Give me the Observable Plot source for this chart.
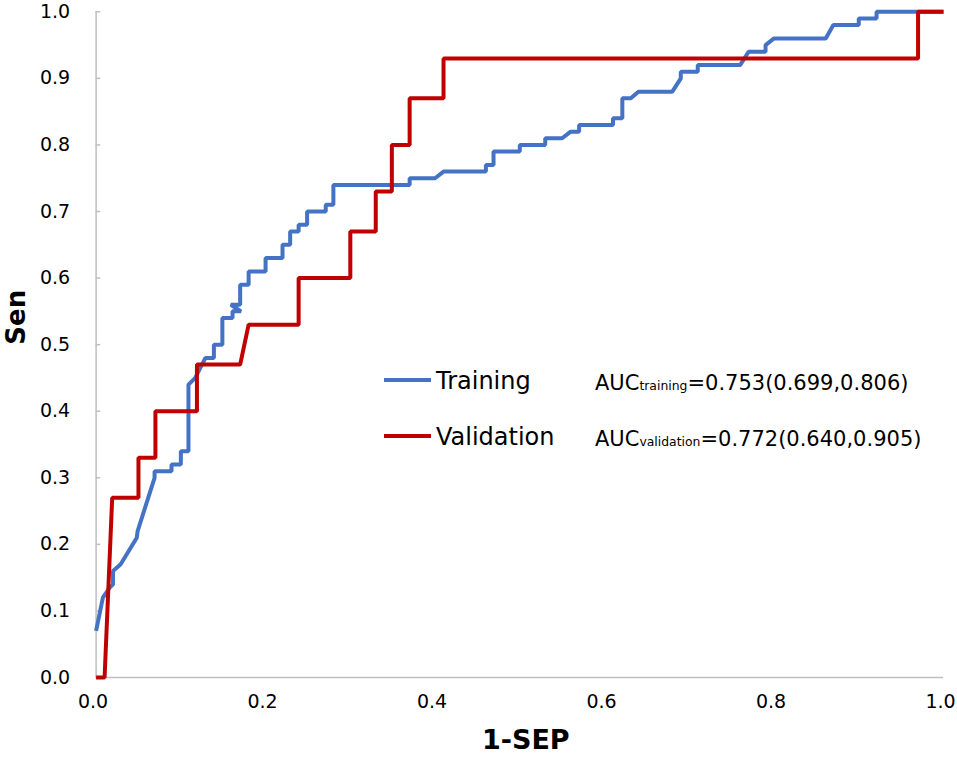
<!DOCTYPE html>
<html>
<head>
<meta charset="utf-8">
<script src="https://cdn.jsdelivr.net/npm/d3@7"></script>
<script src="https://cdn.jsdelivr.net/npm/@observablehq/plot@0.6"></script>
<style>
  body { margin: 0; background: #fff; }
  #wrap { position: relative; width: 957px; height: 761px; font-family: "DejaVu Sans", sans-serif; }
  .leg { position: absolute; white-space: nowrap; color: #000; line-height: 1; }
  .sw { position: absolute; height: 4px; }
  sub { font-size: 12.4px; vertical-align: baseline; }
</style>
</head>
<body>
<div id="wrap"></div>
<script>
// Training ROC curve (1-SEP, Sen)
const trainX = [0,0.008,0.016,0.02,0.02,0.029,0.048,0.049,0.069,0.069,0.089,0.089,0.1,0.1,0.109,0.109,0.117,0.129,0.139,0.139,0.149,0.149,0.161,0.161,0.171,0.159,0.17,0.17,0.18,0.18,0.2,0.2,0.22,0.22,0.229,0.229,0.239,0.239,0.249,0.249,0.271,0.271,0.28,0.28,0.37,0.37,0.40,0.41,0.46,0.46,0.469,0.469,0.50,0.50,0.53,0.53,0.55,0.56,0.57,0.57,0.61,0.61,0.621,0.621,0.631,0.64,0.68,0.69,0.69,0.71,0.71,0.76,0.77,0.79,0.79,0.80,0.861,0.87,0.90,0.90,0.921,0.921,1.0];
const trainY = [0.07,0.12,0.135,0.14,0.16,0.17,0.21,0.22,0.30,0.31,0.31,0.32,0.32,0.34,0.34,0.44,0.45,0.48,0.48,0.50,0.50,0.54,0.54,0.55,0.55,0.56,0.56,0.59,0.59,0.61,0.61,0.63,0.63,0.65,0.65,0.67,0.67,0.68,0.68,0.70,0.70,0.71,0.71,0.74,0.74,0.75,0.75,0.76,0.76,0.77,0.77,0.79,0.79,0.80,0.80,0.81,0.81,0.82,0.82,0.83,0.83,0.84,0.84,0.87,0.87,0.88,0.88,0.90,0.91,0.91,0.92,0.92,0.94,0.94,0.95,0.96,0.96,0.98,0.98,0.99,0.99,1.0,1.0];
// Validation ROC curve
const validX = [0,0.01,0.019,0.05,0.05,0.07,0.07,0.119,0.119,0.17,0.18,0.239,0.239,0.30,0.30,0.33,0.33,0.349,0.349,0.37,0.37,0.41,0.41,0.97,0.97,1.0];
const validY = [0,0,0.27,0.27,0.33,0.33,0.40,0.40,0.47,0.47,0.53,0.53,0.60,0.60,0.67,0.67,0.73,0.73,0.80,0.80,0.87,0.87,0.93,0.93,1.0,1.0];
// Ticks
const xTicks = [0,0.2,0.4,0.6,0.8,1.0];
const yTicks = [0,0.1,0.2,0.3,0.4,0.5,0.6,0.7,0.8,0.9,1.0];
// Labels
const seriesNames = ["Training", "Validation"];
const aucSub = ["training", "validation"];
const aucText = ["=0.753(0.699,0.806)", "=0.772(0.640,0.905)"];
const colors = ["#4472C4", "#C00000"];

const train = trainX.map((x, i) => ({x, y: trainY[i]}));
const valid = validX.map((x, i) => ({x, y: validY[i]}));
const fmt = d3.format(".1f");

const chart = Plot.plot({
  width: 957,
  height: 761,
  marginLeft: 95.6,
  marginRight: 14,
  marginTop: 11.3,
  marginBottom: 84,
  style: {fontFamily: '"DejaVu Sans", sans-serif', background: "#fff", color: "#000"},
  x: {domain: [0, 1]},
  y: {domain: [0, 1]},
  marks: [
    Plot.ruleY(yTicks, {x1: 0, x2: 0.0055, stroke: "#BFBFBF", strokeWidth: 1.5}),
    Plot.ruleX([0], {stroke: "#BFBFBF", strokeWidth: 1.5}),
    Plot.ruleY([0], {stroke: "#BFBFBF", strokeWidth: 1.5}),
    Plot.axisY({ticks: yTicks, tickSize: 0, tickPadding: 26, tickFormat: fmt, fontSize: 19, label: null}),
    Plot.axisX({ticks: xTicks, tickSize: 0, tickPadding: 17, tickFormat: fmt, fontSize: 19, dx: -3, label: null}),
    Plot.line(train, {x: "x", y: "y", stroke: colors[0], strokeWidth: 4, strokeLinejoin: "miter", strokeLinecap: "butt"}),
    Plot.line(valid, {x: "x", y: "y", stroke: colors[1], strokeWidth: 4, strokeLinejoin: "miter", strokeLinecap: "butt"}),
    Plot.text(["1-SEP"], {frameAnchor: "bottom", dy: 71, dx: 6, fontSize: 27, fontWeight: "bold", fontFamily: '"DejaVu Sans", sans-serif'}),
    Plot.text(["Sen"], {frameAnchor: "left", dx: -79, rotate: -90, fontSize: 26, fontWeight: "bold", fontFamily: '"DejaVu Sans", sans-serif'})
  ]
});

const wrap = document.getElementById("wrap");
wrap.appendChild(chart);

const legendRows = [
  {cy: 380, acy: 383},
  {cy: 436, acy: 439}
];
legendRows.forEach((r, i) => {
  const sw = document.createElement("div");
  sw.className = "sw";
  sw.style.left = "384px";
  sw.style.width = "47px";
  sw.style.top = (r.cy - 2) + "px";
  sw.style.background = colors[i];
  wrap.appendChild(sw);

  const t = document.createElement("div");
  t.className = "leg";
  t.style.fontSize = "24px";
  t.style.left = "436px";
  t.style.top = (r.cy - 11.5) + "px";
  t.textContent = seriesNames[i];
  wrap.appendChild(t);

  const a = document.createElement("div");
  a.className = "leg";
  a.style.fontSize = "21px";
  a.style.left = "595px";
  a.style.top = (r.acy - 10.1) + "px";
  a.innerHTML = "AUC<sub>" + aucSub[i] + "</sub>" + aucText[i];
  wrap.appendChild(a);
});
</script>
</body>
</html>
